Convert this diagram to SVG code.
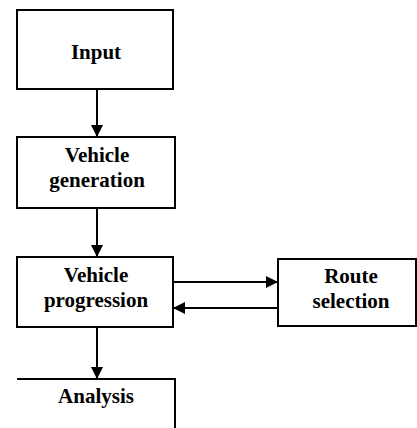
<svg xmlns="http://www.w3.org/2000/svg" width="417" height="428" viewBox="0 0 417 428">
<defs>
<style>
.box{fill:#fff;stroke:#000;stroke-width:2}
.ln{fill:none;stroke:#000;stroke-width:2}
.t{font-family:"Liberation Serif","Times New Roman",serif;font-weight:bold;font-size:21px;text-anchor:middle;fill:#000}
</style>
<marker id="ah" viewBox="0 0 12 12" refX="12" refY="6" markerWidth="12" markerHeight="12" markerUnits="userSpaceOnUse" orient="auto">
<path d="M0,0 L12,6 L0,12 Z" fill="#000"/>
</marker>
</defs>
<rect width="417" height="428" fill="#fff"/>
<g id="connectors">
<line class="ln" x1="97" y1="89" x2="97" y2="137" marker-end="url(#ah)"/>
<line class="ln" x1="97" y1="208" x2="97" y2="257" marker-end="url(#ah)"/>
<line class="ln" x1="173" y1="282" x2="278" y2="282" marker-end="url(#ah)"/>
<line class="ln" x1="278" y1="308" x2="173" y2="308" marker-end="url(#ah)"/>
<line class="ln" x1="97" y1="327" x2="97" y2="379" marker-end="url(#ah)"/>
</g>
<g id="input">
<rect class="box" x="17" y="10" width="156" height="79"/>
<text class="t" x="96" y="59">Input</text>
</g>
<g id="vehicle-generation">
<rect class="box" x="17" y="137" width="158" height="71"/>
<text class="t" x="97" y="162">Vehicle</text>
<text class="t" x="97" y="187">generation</text>
</g>
<g id="vehicle-progression">
<rect class="box" x="17" y="257" width="156" height="70"/>
<text class="t" x="96" y="282">Vehicle</text>
<text class="t" x="96" y="307">progression</text>
</g>
<g id="route-selection">
<rect class="box" x="278" y="259" width="138" height="67"/>
<text class="t" x="351" y="283">Route</text>
<text class="t" x="351" y="308">selection</text>
</g>
<g id="analysis">
<path class="ln" d="M17,379 H175 V428"/>
<text class="t" x="96" y="403">Analysis</text>
</g>
</svg>
